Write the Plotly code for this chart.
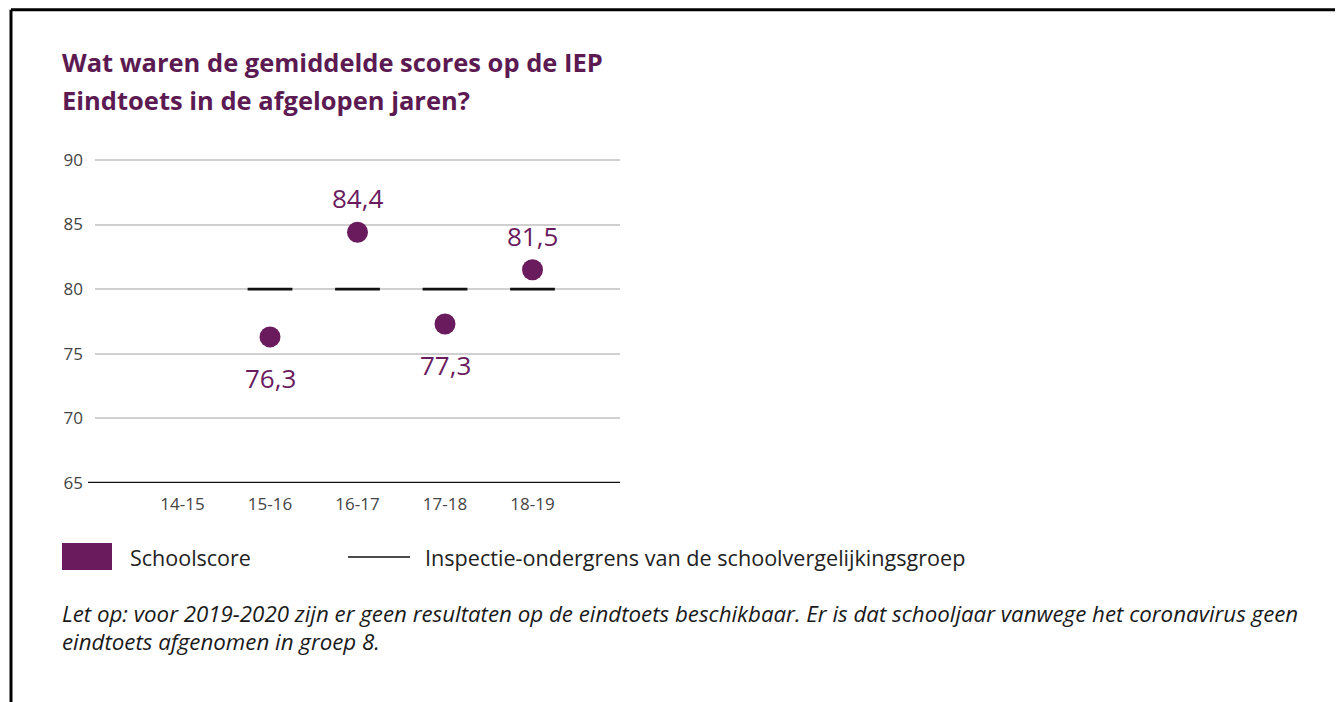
import plotly.graph_objects as go

categories = ["14-15", "15-16", "16-17", "17-18", "18-19"]
school_score = [None, 76.3, 84.4, 77.3, 81.5]
ondergrens = [None, 80, 80, 80, 80]
label_pos = [None, "below", "above", "below", "above"]
y_ticks = [65, 70, 75, 80, 85, 90]

PURPLE = "#6a1b5e"
TITLE_C = "#5c1a52"
OFF = 8  # page body margin
W, H = 1343 - OFF, 702 - OFF

Y_MIN, Y_MAX = 65, 90.3
PX_PER_UNIT = (483 - 160) / 25.0
L_pg, R_pg = 95, 620
B_pg = 483
T_pg = 160 - (Y_MAX - 90) * PX_PER_UNIT

L, R = L_pg - OFF, R_pg - OFF
T, B = T_pg - OFF, B_pg - OFF


def px(x):
    return (x - OFF - L) / (R - L)


def py(y):
    return (B - (y - OFF)) / (B - T)


xpos = list(range(len(categories)))

fig = go.Figure()

fig.add_trace(go.Scatter(
    x=[x for x, v in zip(xpos, ondergrens) if v is not None],
    y=[v for v in ondergrens if v is not None],
    mode="markers",
    marker=dict(symbol="line-ew", size=32, line=dict(color="#111111", width=2.6)),
    hoverinfo="skip", showlegend=False,
))

fig.add_trace(go.Scatter(
    x=[x for x, v in zip(xpos, school_score) if v is not None],
    y=[v for v in school_score if v is not None],
    mode="markers",
    marker=dict(size=21, color=PURPLE),
    showlegend=False,
))

for x, v, pos in zip(xpos, school_score, label_pos):
    if v is None:
        continue
    fig.add_annotation(
        x=x, y=v, xref="x", yref="y",
        text=f"{v:.1f}".replace(".", ","),
        showarrow=False,
        yshift=34 if pos == "above" else -41,
        font=dict(family="Open Sans", size=26, color=PURPLE),
    )

shapes = [
    dict(type="line", xref="paper", yref="paper", x0=px(11), x1=px(1341), y0=py(10), y1=py(10),
         line=dict(color="black", width=3)),
    dict(type="line", xref="paper", yref="paper", x0=px(11), x1=px(11), y0=py(10), y1=py(702),
         line=dict(color="black", width=3)),
    dict(type="rect", xref="paper", yref="paper", x0=px(62), x1=px(112), y0=py(570), y1=py(543),
         fillcolor=PURPLE, line=dict(width=0)),
    dict(type="line", xref="paper", yref="paper", x0=px(348), x1=px(410), y0=py(557), y1=py(557),
         line=dict(color="#111111", width=1.5)),
    # baseline at 65, extending a little left of the plot area
    dict(type="line", xref="paper", yref="y", x0=px(88), x1=1, y0=65, y1=65,
         line=dict(color="#111111", width=2.5)),
]

annotations = [
    dict(x=px(60), y=py(62), text="<b>Wat waren de gemiddelde scores op de IEP</b>",
         font=dict(family="Open Sans", size=25.5, color=TITLE_C)),
    dict(x=px(60), y=py(100), text="<b>Eindtoets in de afgelopen jaren?</b>",
         font=dict(family="Open Sans", size=25.5, color=TITLE_C)),
    dict(x=px(128), y=py(557), text="Schoolscore",
         font=dict(family="Open Sans", size=21.5, color="#222222")),
    dict(x=px(423), y=py(557), text="Inspectie-ondergrens van de schoolvergelijkingsgroep",
         font=dict(family="Open Sans", size=21.6, color="#222222")),
    dict(x=px(60), y=py(613),
         text="<i>Let op: voor 2019-2020 zijn er geen resultaten op de eindtoets beschikbaar. Er is dat schooljaar vanwege het coronavirus geen</i>",
         font=dict(family="Open Sans", size=22.3, color="#1a1a1a")),
    dict(x=px(60), y=py(641), text="<i>eindtoets afgenomen in groep 8.</i>",
         font=dict(family="Open Sans", size=22.3, color="#1a1a1a")),
]

for a in annotations:
    fig.add_annotation(xref="paper", yref="paper", xanchor="left", yanchor="middle",
                       showarrow=False, align="left", **a)

fig.update_layout(
    width=W, height=H,
    margin=dict(l=L, r=W - R, t=T, b=H - B, pad=0),
    paper_bgcolor="white", plot_bgcolor="white",
    shapes=shapes,
    showlegend=False,
    xaxis=dict(
        range=[-1, 5], tickmode="array", tickvals=xpos, ticktext=categories,
        showgrid=False, zeroline=False, showline=False, ticks="",
        ticklabelstandoff=9,
        tickfont=dict(family="Open Sans", size=17, color="#444444"),
        fixedrange=True,
    ),
    yaxis=dict(
        range=[Y_MIN, Y_MAX], tickmode="array", tickvals=y_ticks,
        ticktext=[str(t) for t in y_ticks],
        showgrid=True, gridcolor="#d0d0d0", gridwidth=2,
        zeroline=False, showline=False, ticks="",
        ticklabelstandoff=11,
        tickfont=dict(family="Open Sans", size=17, color="#444444"),
        fixedrange=True,
    ),
)

fig.write_html("out.html")
